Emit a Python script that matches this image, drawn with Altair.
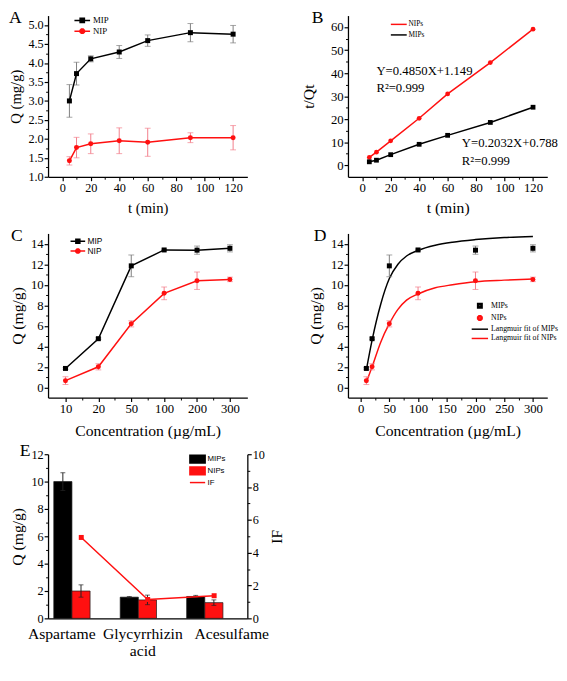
import json
import altair as alt
import pandas as pd

SERIF = "Liberation Serif"
SANS = "Liberation Sans"
RED = "#ff1010"
BLACK = "#000000"
GRAY = "#7d7d7d"
PINK = "#f27d8a"

# ---------------- data ----------------
panel_letters = ["A", "B", "C", "D", "E"]

# Panel A: adsorption kinetics
t_min = [5, 10, 20, 40, 60, 90, 120]
a_mip = [3.00, 3.72, 4.11, 4.29, 4.59, 4.80, 4.76]
a_mip_err = [0.43, 0.30, 0.08, 0.17, 0.15, 0.24, 0.23]
a_nip = [1.42, 1.77, 1.87, 1.95, 1.91, 2.03, 2.03]
a_nip_err = [0.11, 0.27, 0.26, 0.34, 0.37, 0.13, 0.32]

# Panel B: pseudo-second-order plot t/Qt
b_nip = [3.4, 5.7, 10.6, 20.4, 31.0, 44.6, 59.1]
b_mip = [1.5, 2.2, 4.6, 9.1, 13.0, 18.6, 25.2]
b_eq_text = ["Y=0.4850X+1.149", "R²=0.999", "Y=0.2032X+0.788", "R²=0.999"]
b_eq_t = [10, 10, 70, 70]
b_eq_q = [41.0, 33.5, 9.8, 1.8]

# Panels C/D: adsorption isotherms
conc = [10, 20, 50, 100, 200, 300]
c_mip = [1.84, 4.74, 11.84, 13.39, 13.37, 13.55]
c_mip_err = [0.08, 0.08, 1.06, 0.08, 0.40, 0.35]
c_nip = [0.65, 2.00, 6.19, 9.16, 10.39, 10.52]
c_nip_err = [0.38, 0.30, 0.30, 0.62, 0.85, 0.22]

# Panel D: Langmuir fit curves
fit_c = [10, 20, 35, 50, 65, 80, 100, 130, 160, 200, 250, 300]
fit_mip = [1.7, 4.6, 8.1, 10.6, 12.0, 12.8, 13.35, 13.85, 14.15, 14.4, 14.6, 14.7]
fit_nip = [0.5, 2.0, 4.4, 6.2, 7.6, 8.5, 9.1, 9.7, 10.0, 10.3, 10.45, 10.55]

# Panel E: selectivity
sweeteners = ["Aspartame", "Glycyrrhizin acid", "Acesulfame"]
e_mip = [10.0, 1.55, 1.60]
e_mip_err = [0.65, 0.05, 0.08]
e_nip = [2.0, 1.35, 1.15]
e_nip_err = [0.45, 0.35, 0.20]
e_if = [4.93, 1.15, 1.38]

# ---------------- helpers ----------------
LINE = "M-2,0H2"
SQ = "M-0.55,-0.55H0.55V0.55H-0.55ZM-0.25,-0.25H0.25V0.25H-0.25Z"
CI = ("M0.554,0.23L0.23,0.554L-0.23,0.554L-0.554,0.23L-0.554,-0.23L-0.23,-0.554L0.23,-0.554L0.554,-0.23Z"
      "M0.259,0.107L0.107,0.259L-0.107,0.259L-0.259,0.107L-0.259,-0.107L-0.107,-0.259L0.107,-0.259L0.259,-0.107Z")
BOX = "M-2,-1H2V1H-2Z" + "".join(f"M-2,{v}H2" for v in [-0.75, -0.5, -0.25, 0, 0.25, 0.5, 0.75])


def long_df(xs, series):
    rows = []
    for name, vals, errs in series:
        for xv, v, e in zip(xs, vals, errs):
            rows.append({"x": xv, "y": v, "lo": v - e, "hi": v + e, "s": name})
    return pd.DataFrame(rows)


def major(orient, values, title, fmt=None, expr=None, lsize=12.5, tsize=15, tpad=6, lpad=1, tick=4, **kw):
    args = dict(orient=orient, values=values, title=title, tickSize=tick, tickWidth=1.2,
                domainWidth=1.3, domainColor=BLACK, tickColor=BLACK, labelColor=BLACK,
                titleColor=BLACK, labelFont=SERIF, titleFont=SERIF, titleFontWeight="normal",
                labelFontSize=lsize, titleFontSize=tsize, titlePadding=tpad, labelPadding=lpad,
                grid=False, labelFlush=False, labelOverlap=False)
    if fmt:
        args["format"] = fmt
    if expr:
        args["labelExpr"] = expr
    args.update(kw)
    return alt.Axis(**args)


def minor(orient, values):
    return alt.Axis(orient=orient, values=values, labels=False, title=None, domain=False,
                    tickSize=2.5, tickWidth=1, tickColor=BLACK, grid=False)


def letter_layer(i, dx, top_y):
    df = pd.DataFrame({"t": [panel_letters[i]]})
    return alt.Chart(df).mark_text(align="left", baseline="top", font=SERIF, fontSize=18,
                                   color=BLACK).encode(
        x=alt.value(dx), y=alt.value(top_y), text="t:N")


def leg(x, y, font, fsize, loff, rpad, ssize):
    return alt.Legend(title=None, orient="none", legendX=x, legendY=y, labelFont=font,
                      labelFontSize=fsize, labelOffset=loff, rowPadding=rpad, symbolSize=ssize,
                      symbolStrokeWidth=1.5, padding=0, labelLimit=400, labelColor=BLACK)


def errbars(df, xs, ys, names, colors, cap=6):
    cs = alt.Scale(domain=names, range=colors)
    b = alt.Chart(df)
    rule = b.mark_rule(strokeWidth=1).encode(
        x=alt.X("x:Q", scale=xs, axis=None), y=alt.Y("lo:Q", scale=ys, axis=None), y2="hi:Q",
        color=alt.Color("s:N", scale=cs, legend=None))
    caps = b.transform_fold(["lo", "hi"], as_=["k", "v"]).mark_tick(
        orient="horizontal", size=cap, thickness=1).encode(
        x=alt.X("x:Q", scale=xs, axis=None), y=alt.Y("v:Q", scale=ys, axis=None),
        color=alt.Color("s:N", scale=cs, legend=None))
    return [rule, caps]


def points(df, xs, ys, names, colors, shapes, size=26):
    return alt.Chart(df).mark_point(filled=True, size=size, opacity=1).encode(
        x=alt.X("x:Q", scale=xs, axis=None), y=alt.Y("y:Q", scale=ys, axis=None),
        color=alt.Color("s:N", scale=alt.Scale(domain=names, range=colors), legend=None),
        shape=alt.Shape("s:N", scale=alt.Scale(domain=names, range=shapes), legend=None))


def lines(df, xs, ys, names, colors, xaxis, yaxis, interp="linear"):
    return alt.Chart(df).mark_line(strokeWidth=1.5, interpolate=interp).encode(
        x=alt.X("x:Q", scale=xs, axis=xaxis), y=alt.Y("y:Q", scale=ys, axis=yaxis),
        color=alt.Color("s:N", scale=alt.Scale(domain=names, range=colors), legend=None))


def legend_layer(df, xs, ys, xmin, ymin, names, colors, paths, legend, xf="x:Q", yf="y:Q"):
    return alt.Chart(df).transform_filter("false").mark_point(
        filled=False, strokeWidth=1.5, opacity=1).encode(
        x=alt.X(xf, scale=xs, axis=xmin), y=alt.Y(yf, scale=ys, axis=ymin),
        color=alt.Color("s:N", scale=alt.Scale(domain=names, range=colors), legend=legend),
        shape=alt.Shape("s:N", scale=alt.Scale(domain=names, range=paths), legend=legend))


def finish(layers, w, h):
    return alt.layer(*layers).resolve_scale(color="independent", shape="independent").resolve_axis(
        x="independent", y="independent").properties(width=w, height=h)


WL, WR = 204, 204
H1, H2, HE = 165, 168, 168

# ---------------- panel A ----------------
dfA = long_df(t_min, [("MIP", a_mip, a_mip_err), ("NIP", a_nip, a_nip_err)])
xA = alt.Scale(domain=[-10, 130], nice=False, zero=False)
yA = alt.Scale(domain=[1.0, 5.25], nice=False, zero=False)
nA = ["MIP", "NIP"]
panelA = finish(
    errbars(dfA, xA, yA, nA, [GRAY, PINK]) + [
        lines(dfA, xA, yA, nA, [BLACK, RED],
              major("bottom", list(range(0, 121, 20)), "t (min)", lsize=12.5, tsize=15, tpad=7),
              major("left", [1 + 0.5 * i for i in range(9)], "Q (mg/g)", fmt=".1f",
                    lsize=12.5, tsize=15, tpad=5)),
        points(dfA, xA, yA, nA, [BLACK, RED], ["square", "circle"]),
        legend_layer(dfA, xA, yA, minor("bottom", list(range(10, 120, 20))),
                     minor("left", [1.25 + 0.5 * i for i in range(8)]), nA, [BLACK, RED],
                     [LINE + SQ, LINE + CI], leg(30, 0, SERIF, 9, 6, -1, 64)),
        letter_layer(0, -40, -6),
    ], WL, H1)

# ---------------- panel B ----------------
dfB = long_df(t_min, [("NIPs", b_nip, [0] * 7), ("MIPs", b_mip, [0] * 7)])
xB = alt.Scale(domain=[-10, 130], nice=False, zero=False)
yB = alt.Scale(domain=[-5, 65], nice=False, zero=False)
nB = ["NIPs", "MIPs"]
dfEq = pd.DataFrame({"x": b_eq_t, "y": b_eq_q, "txt": b_eq_text})
eqB = alt.Chart(dfEq).mark_text(align="left", baseline="middle", font=SERIF, fontSize=13,
                                color=BLACK).encode(
    x=alt.X("x:Q", scale=xB, axis=None), y=alt.Y("y:Q", scale=yB, axis=None), text="txt:N")
panelB = finish([
    lines(dfB, xB, yB, nB, [RED, BLACK],
          major("bottom", list(range(0, 121, 20)), "t (min)", lsize=13, tsize=16, tpad=6),
          major("left", list(range(0, 61, 10)), "t/Qt", lsize=13, tsize=16, tpad=14)),
    points(dfB, xB, yB, nB, [RED, BLACK], ["circle", "square"], size=24),
    eqB,
    legend_layer(dfB, xB, yB, minor("bottom", list(range(10, 120, 20))),
                 minor("left", list(range(5, 60, 10))), nB, [RED, BLACK], [LINE, LINE],
                 leg(47, 4, SERIF, 7.5, 5, 1.8, 66)),
    letter_layer(1, -37, -6),
], WR, H1)

# ---------------- panel C ----------------
idx = list(range(1, len(conc) + 1))
dfC = long_df(idx, [("MIP", c_mip, c_mip_err), ("NIP", c_nip, c_nip_err)])
xC = alt.Scale(domain=[0.47, 6.53], nice=False, zero=False)
yC = alt.Scale(domain=[-1, 15], nice=False, zero=False)
nC = ["MIP", "NIP"]
conc_expr = json.dumps([str(c) for c in conc]) + "[datum.value - 1]"
panelC = finish(
    errbars(dfC, xC, yC, nC, [GRAY, PINK]) + [
        lines(dfC, xC, yC, nC, [BLACK, RED],
              major("bottom", idx, "Concentration (µg/mL)", expr=conc_expr, lsize=13, tsize=16,
                    tpad=8),
              major("left", list(range(0, 15, 2)), "Q (mg/g)", lsize=13, tsize=16, tpad=5)),
        points(dfC, xC, yC, nC, [BLACK, RED], ["square", "circle"]),
        legend_layer(dfC, xC, yC, minor("bottom", [1.5, 2.5, 3.5, 4.5, 5.5]),
                     minor("left", list(range(1, 14, 2))), nC, [BLACK, RED],
                     [LINE + SQ, LINE + CI], leg(26, 3.5, SANS, 8.5, 5.5, -1.8, 56)),
        letter_layer(2, -38, -6),
    ], WL, H2)

# ---------------- panel D ----------------
dfD = long_df(conc, [("MIPs", c_mip, c_mip_err), ("NIPs", c_nip, c_nip_err)])
dfFit = long_df(fit_c, [("Langmuir fit of MIPs", fit_mip, [0] * len(fit_c)),
                        ("Langmuir fit of NIPs", fit_nip, [0] * len(fit_c))])
xD = alt.Scale(domain=[-22, 325], nice=False, zero=False)
yD = alt.Scale(domain=[-1, 15], nice=False, zero=False)
nD = ["MIPs", "NIPs", "Langmuir fit of MIPs", "Langmuir fit of NIPs"]
panelD = finish(
    [lines(dfFit, xD, yD, nD[2:], [BLACK, RED],
           major("bottom", list(range(0, 301, 50)), "Concentration (µg/mL)", lsize=13, tsize=16,
                 tpad=8),
           major("left", list(range(0, 15, 2)), "Q (mg/g)", lsize=13, tsize=16, tpad=7),
           interp="monotone")]
    + errbars(dfD, xD, yD, nD[:2], [GRAY, PINK])
    + [points(dfD, xD, yD, nD[:2], [BLACK, RED], ["square", "circle"]),
       legend_layer(dfD, xD, yD, minor("bottom", list(range(25, 300, 50))),
                    minor("left", list(range(1, 14, 2))), nD, [BLACK, RED, BLACK, RED],
                    [SQ, CI, LINE, LINE], leg(130, 69, SERIF, 8, 6.4, 0.5, 70)),
       letter_layer(3, -35, -6)],
    WR, H2)

# ---------------- panel E ----------------
rowsE = []
for s, vals, errs in [("MIPs", e_mip, e_mip_err), ("NIPs", e_nip, e_nip_err)]:
    for sw, v, e in zip(sweeteners, vals, errs):
        rowsE.append({"sw": sw, "s": s, "v": v, "lo": v - e, "hi": v + e})
dfE = pd.DataFrame(rowsE)
dfIF = pd.DataFrame({"sw": sweeteners, "f": e_if, "s": ["IF"] * 3})
xE = alt.Scale(domain=sweeteners, paddingInner=0, paddingOuter=0)
xoE = alt.Scale(domain=["MIPs", "NIPs"], paddingInner=0, paddingOuter=0.83, align=0.19)
yEL = alt.Scale(domain=[0, 12], nice=False, zero=False)
yER = alt.Scale(domain=[0, 10], nice=False, zero=False)
nE = ["MIPs", "NIPs", "IF"]
cE = [BLACK, RED, RED]
label_expr = ("datum.value == 'Glycyrrhizin acid' ? ['Glycyrrhizin', 'acid'] : datum.value")
x_axis_E = alt.Axis(orient="bottom", title=None, ticks=False, domain=True, domainWidth=1.3,
                    domainColor=BLACK, labelFont=SERIF, labelFontSize=16, labelColor=BLACK,
                    labelPadding=8, labelLineHeight=17, labelExpr=label_expr, labelAngle=0,
                    labelOffset={"condition": [
                        {"test": "datum.value == 'Aspartame'", "value": -20},
                        {"test": "datum.value == 'Acesulfame'", "value": 18}], "value": -5})
barsE = alt.Chart(dfE).mark_bar(stroke="#1a1a1a", strokeWidth=0.7).encode(
    x=alt.X("sw:N", scale=xE, axis=x_axis_E),
    xOffset=alt.XOffset("s:N", scale=xoE),
    y=alt.Y("v:Q", scale=yEL, axis=major("left", list(range(0, 13, 2)), "Q (mg/g)", lsize=12.5,
                                         tsize=16, tpad=6)),
    color=alt.Color("s:N", scale=alt.Scale(domain=nE, range=cE), legend=None))
errE = alt.Chart(dfE).mark_rule(strokeWidth=1, color="#222222").encode(
    x=alt.X("sw:N", scale=xE, axis=None), xOffset=alt.XOffset("s:N", scale=xoE),
    y=alt.Y("lo:Q", scale=yEL, axis=None), y2="hi:Q")
capE = alt.Chart(dfE).transform_fold(["lo", "hi"], as_=["k", "val"]).mark_tick(
    orient="horizontal", size=5, thickness=1, color="#222222").encode(
    x=alt.X("sw:N", scale=xE, axis=None), xOffset=alt.XOffset("s:N", scale=xoE),
    y=alt.Y("val:Q", scale=yEL, axis=None))
ifLine = alt.Chart(dfIF).mark_line(color=RED, strokeWidth=1.5).encode(
    x=alt.X("sw:N", scale=xE, axis=None),
    y=alt.Y("f:Q", scale=yER, axis=major("right", list(range(0, 11, 2)), "IF", lsize=12.5,
                                         tsize=16, tpad=4, titleAngle=270, titleBaseline="top")))
ifPts = alt.Chart(dfIF).mark_square(color=RED, size=26, opacity=1).encode(
    x=alt.X("sw:N", scale=xE, axis=None),
    y=alt.Y("f:Q", scale=yER, axis=minor("right", list(range(1, 10, 2)))))
legE = alt.Chart(dfE).transform_filter("false").mark_point(
    filled=False, strokeWidth=1.2, opacity=1).encode(
    x=alt.X("sw:N", scale=xE, axis=None),
    y=alt.Y("v:Q", scale=yEL, axis=minor("left", list(range(1, 12, 2)))),
    color=alt.Color("s:N", scale=alt.Scale(domain=nE, range=cE),
                    legend=leg(148, 0, SANS, 8, 5.3, -3.5, 61)),
    shape=alt.Shape("s:N", scale=alt.Scale(domain=nE, range=[BOX, BOX, LINE]),
                    legend=leg(148, 0, SANS, 8, 5.3, -3.5, 61)))
panelE = alt.layer(barsE, errE, capE, ifLine, ifPts, legE, letter_layer(4, -29, -12)).resolve_scale(
    color="independent", shape="independent", y="independent").resolve_axis(
    x="independent", y="independent").properties(width=WL, height=HE)

chart = alt.concat(panelA, panelB, panelC, panelD, panelE, columns=2,
                   spacing={"row": 58, "column": 103}, bounds="flush", align="each").properties(
    padding={"top": -6, "left": 0, "right": 0, "bottom": 0}).configure_view(stroke=None)

chart.save("out.html", embed_options={"renderer": "svg", "actions": False})
